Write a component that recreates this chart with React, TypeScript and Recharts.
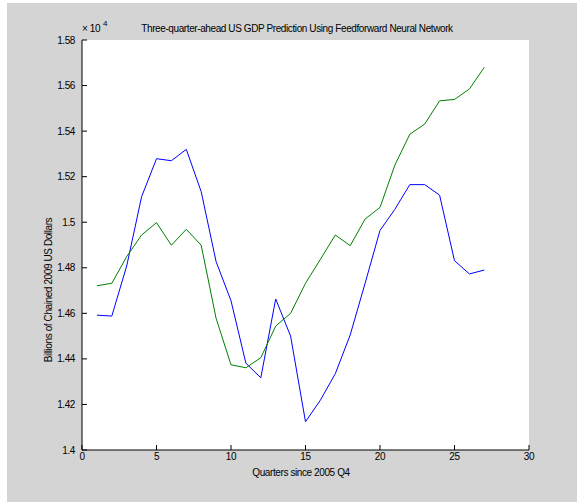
import React from 'react';
import { LineChart, Line, XAxis, YAxis, CartesianGrid } from 'recharts';

// quarters since 2005 Q4, values in units of 10^4 billions
const quarters = [1, 2, 3, 4, 5, 6, 7, 8, 9, 10, 11, 12, 13, 14, 15, 16, 17, 18, 19, 20, 21, 22, 23, 24, 25, 26, 27];
const blueSeries = [
  1.4592, 1.4588, 1.4808, 1.5112, 1.5279, 1.5270, 1.5320, 1.5134, 1.4827, 1.4655,
  1.4381, 1.4317, 1.4663, 1.4500, 1.4124, 1.4219, 1.4335, 1.4505, 1.4732, 1.4964,
  1.5057, 1.5165, 1.5165, 1.5119, 1.4831, 1.4773, 1.4790,
];
const greenSeries = [
  1.4721, 1.4732, 1.4849, 1.4944, 1.4998, 1.4899, 1.4969, 1.4899, 1.4578, 1.4374,
  1.4361, 1.4405, 1.4544, 1.4600, 1.4732, 1.4837, 1.4944, 1.4897, 1.5014, 1.5065,
  1.5251, 1.5386, 1.5431, 1.5533, 1.5539, 1.5585, 1.5680,
];
const xTicks = [0, 5, 10, 15, 20, 25, 30];
const yTicks = [1.4, 1.42, 1.44, 1.46, 1.48, 1.5, 1.52, 1.54, 1.56, 1.58];

const rows = quarters.map((q, i) => ({ q, blue: blueSeries[i], green: greenSeries[i] }));

const font = { fontSize: 10, fill: '#000' };
const blank = () => '';

export default function App() {
  return (
    <div style={{ position: 'absolute', left: 0, top: 0, width: 577, height: 502, background: '#fff', overflow: 'hidden',
      fontFamily: '"Liberation Sans", Arial, sans-serif', letterSpacing: -0.4, color: '#000' }}>
      <div style={{ position: 'absolute', left: 7, top: 3, width: 570, height: 499, background: '#d4d4d4' }} />
      <div style={{ position: 'absolute', left: 297, top: 23, fontSize: 10, lineHeight: '12px', whiteSpace: 'nowrap', transform: 'translateX(-50%)' }}>
        Three-quarter-ahead US GDP Prediction Using Feedforward Neural Network
      </div>
      <div style={{ position: 'absolute', left: 82, top: 23, fontSize: 10, lineHeight: '12px', whiteSpace: 'nowrap' }}>
        × 10
      </div>
      <div style={{ position: 'absolute', left: 103, top: 19, fontSize: 8, lineHeight: '10px' }}>4</div>
      <div style={{ position: 'absolute', left: 49, top: 290, fontSize: 10, lineHeight: '12px', whiteSpace: 'nowrap',
        transform: 'translate(-50%, -50%) rotate(-90deg)' }}>
        Billions of Chained 2009 US Dollars
      </div>
      <div style={{ position: 'absolute', left: 301, top: 467, fontSize: 10, lineHeight: '12px', whiteSpace: 'nowrap', transform: 'translateX(-50%)' }}>
        Quarters since 2005 Q4
      </div>
      <LineChart width={577} height={502} data={rows} margin={{ top: 40, right: 48, bottom: 0, left: 0 }}
        style={{ position: 'absolute', left: 0, top: 0 }}>
        <CartesianGrid fill="#fff" horizontal={false} vertical={false} />
        <XAxis dataKey="q" type="number" domain={[0, 30]} ticks={xTicks} height={52} stroke="#000"
          tickSize={-5} tickMargin={8} tick={font} />
        <XAxis xAxisId="t" orientation="top" dataKey="q" type="number" domain={[0, 30]} ticks={xTicks} height={0}
          stroke="#000" tickSize={-5} tickFormatter={blank} />
        <YAxis type="number" domain={[1.4, 1.58]} ticks={yTicks} width={82} stroke="#000"
          tickSize={-5} tickMargin={12} tick={font} tickFormatter={(v: number) => String(+v.toFixed(2))} />
        <YAxis yAxisId="r" orientation="right" type="number" domain={[1.4, 1.58]} ticks={yTicks} width={0}
          stroke="#000" tickSize={-5} tickFormatter={blank} />
        <Line dataKey="blue" stroke="#0000ff" strokeWidth={1} dot={false} isAnimationActive={false} />
        <Line dataKey="green" stroke="#008000" strokeWidth={1} dot={false} isAnimationActive={false} />
      </LineChart>
    </div>
  );
}
